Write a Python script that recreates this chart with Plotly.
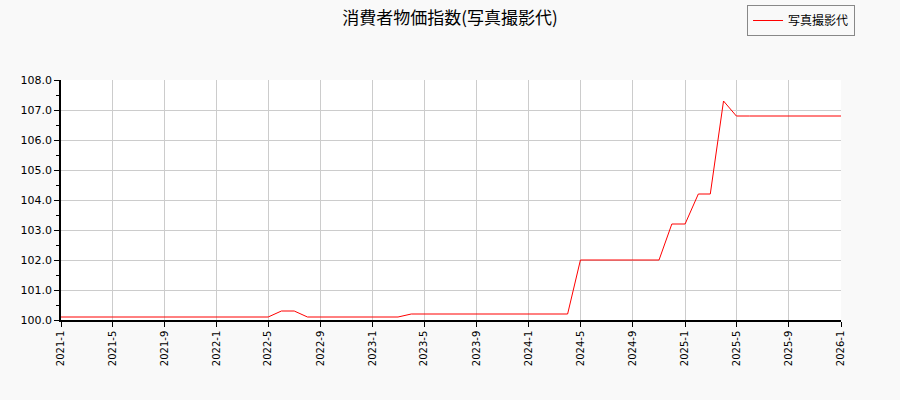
import plotly.graph_objects as go
import pandas as pd

start_month = "2021-01"
values = (
    [100.1] * 17          # 2021-1 .. 2022-5
    + [100.3, 100.3]      # 2022-6, 2022-7
    + [100.1] * 8         # 2022-8 .. 2023-3
    + [100.2] * 13        # 2023-4 .. 2024-4
    + [102.0] * 7         # 2024-5 .. 2024-11
    + [103.2, 103.2]      # 2024-12, 2025-1
    + [104.2, 104.2]      # 2025-2, 2025-3
    + [107.3]             # 2025-4
    + [106.8] * 9         # 2025-5 .. 2026-1
)
dates = pd.date_range(start_month, periods=len(values), freq="MS")

tick_dates = pd.date_range("2021-01-01", "2026-01-01", freq="4MS")
tick_labels = [f"{d.year}-{d.month}" for d in tick_dates]
y_ticks = [100 + i for i in range(9)]
y_labels = [f"{v:.1f}" for v in y_ticks]

series_name = "写真撮影代"
title = "消費者物価指数(写真撮影代)"

fig = go.Figure()
fig.add_trace(go.Scatter(x=dates, y=values, mode="lines", name=series_name,
                         line=dict(color="#ff0000", width=1)))

fig.update_layout(
    width=900, height=400,
    paper_bgcolor="#f9f9f9", plot_bgcolor="#ffffff",
    margin=dict(l=61, r=59, t=80, b=80, autoexpand=False),
    title=dict(text=title, x=0.5, xanchor="center", y=0.955, yanchor="middle",
               font=dict(family="Noto Sans CJK JP", size=17, color="#000")),
    showlegend=True,
    legend=dict(x=1.018, xanchor="right", y=1.3125, yanchor="top",
                bgcolor="#f9f9f9", bordercolor="#888", borderwidth=1,
                itemwidth=30,
                font=dict(family="Noto Sans CJK JP", size=12, color="#000")),
    font=dict(family="DejaVu Sans", size=11, color="#000"),
)
fig.update_xaxes(
    range=[pd.Timestamp("2021-01-01"), pd.Timestamp("2026-01-01")],
    tickvals=tick_dates, ticktext=tick_labels, tickangle=-90,
    ticks="outside", ticklen=5, tickcolor="#000",
    showline=True, linecolor="#000", linewidth=1.5,
    showgrid=True, gridcolor="#cccccc", gridwidth=1, zeroline=False,
    tickfont=dict(family="DejaVu Sans", size=10),
)
fig.update_yaxes(
    range=[100, 108], tickvals=y_ticks, ticktext=y_labels,
    ticks="outside", ticklen=5, tickcolor="#000",
    minor=dict(dtick=0.5, ticks="outside", ticklen=3, tickcolor="#000", showgrid=False),
    showline=True, linecolor="#000", linewidth=1.5,
    showgrid=True, gridcolor="#cccccc", gridwidth=1, zeroline=False,
    tickfont=dict(family="DejaVu Sans", size=11),
)
fig.write_html("out.html", config={"displayModeBar": False},
               post_script="document.body.style.margin='0';")
